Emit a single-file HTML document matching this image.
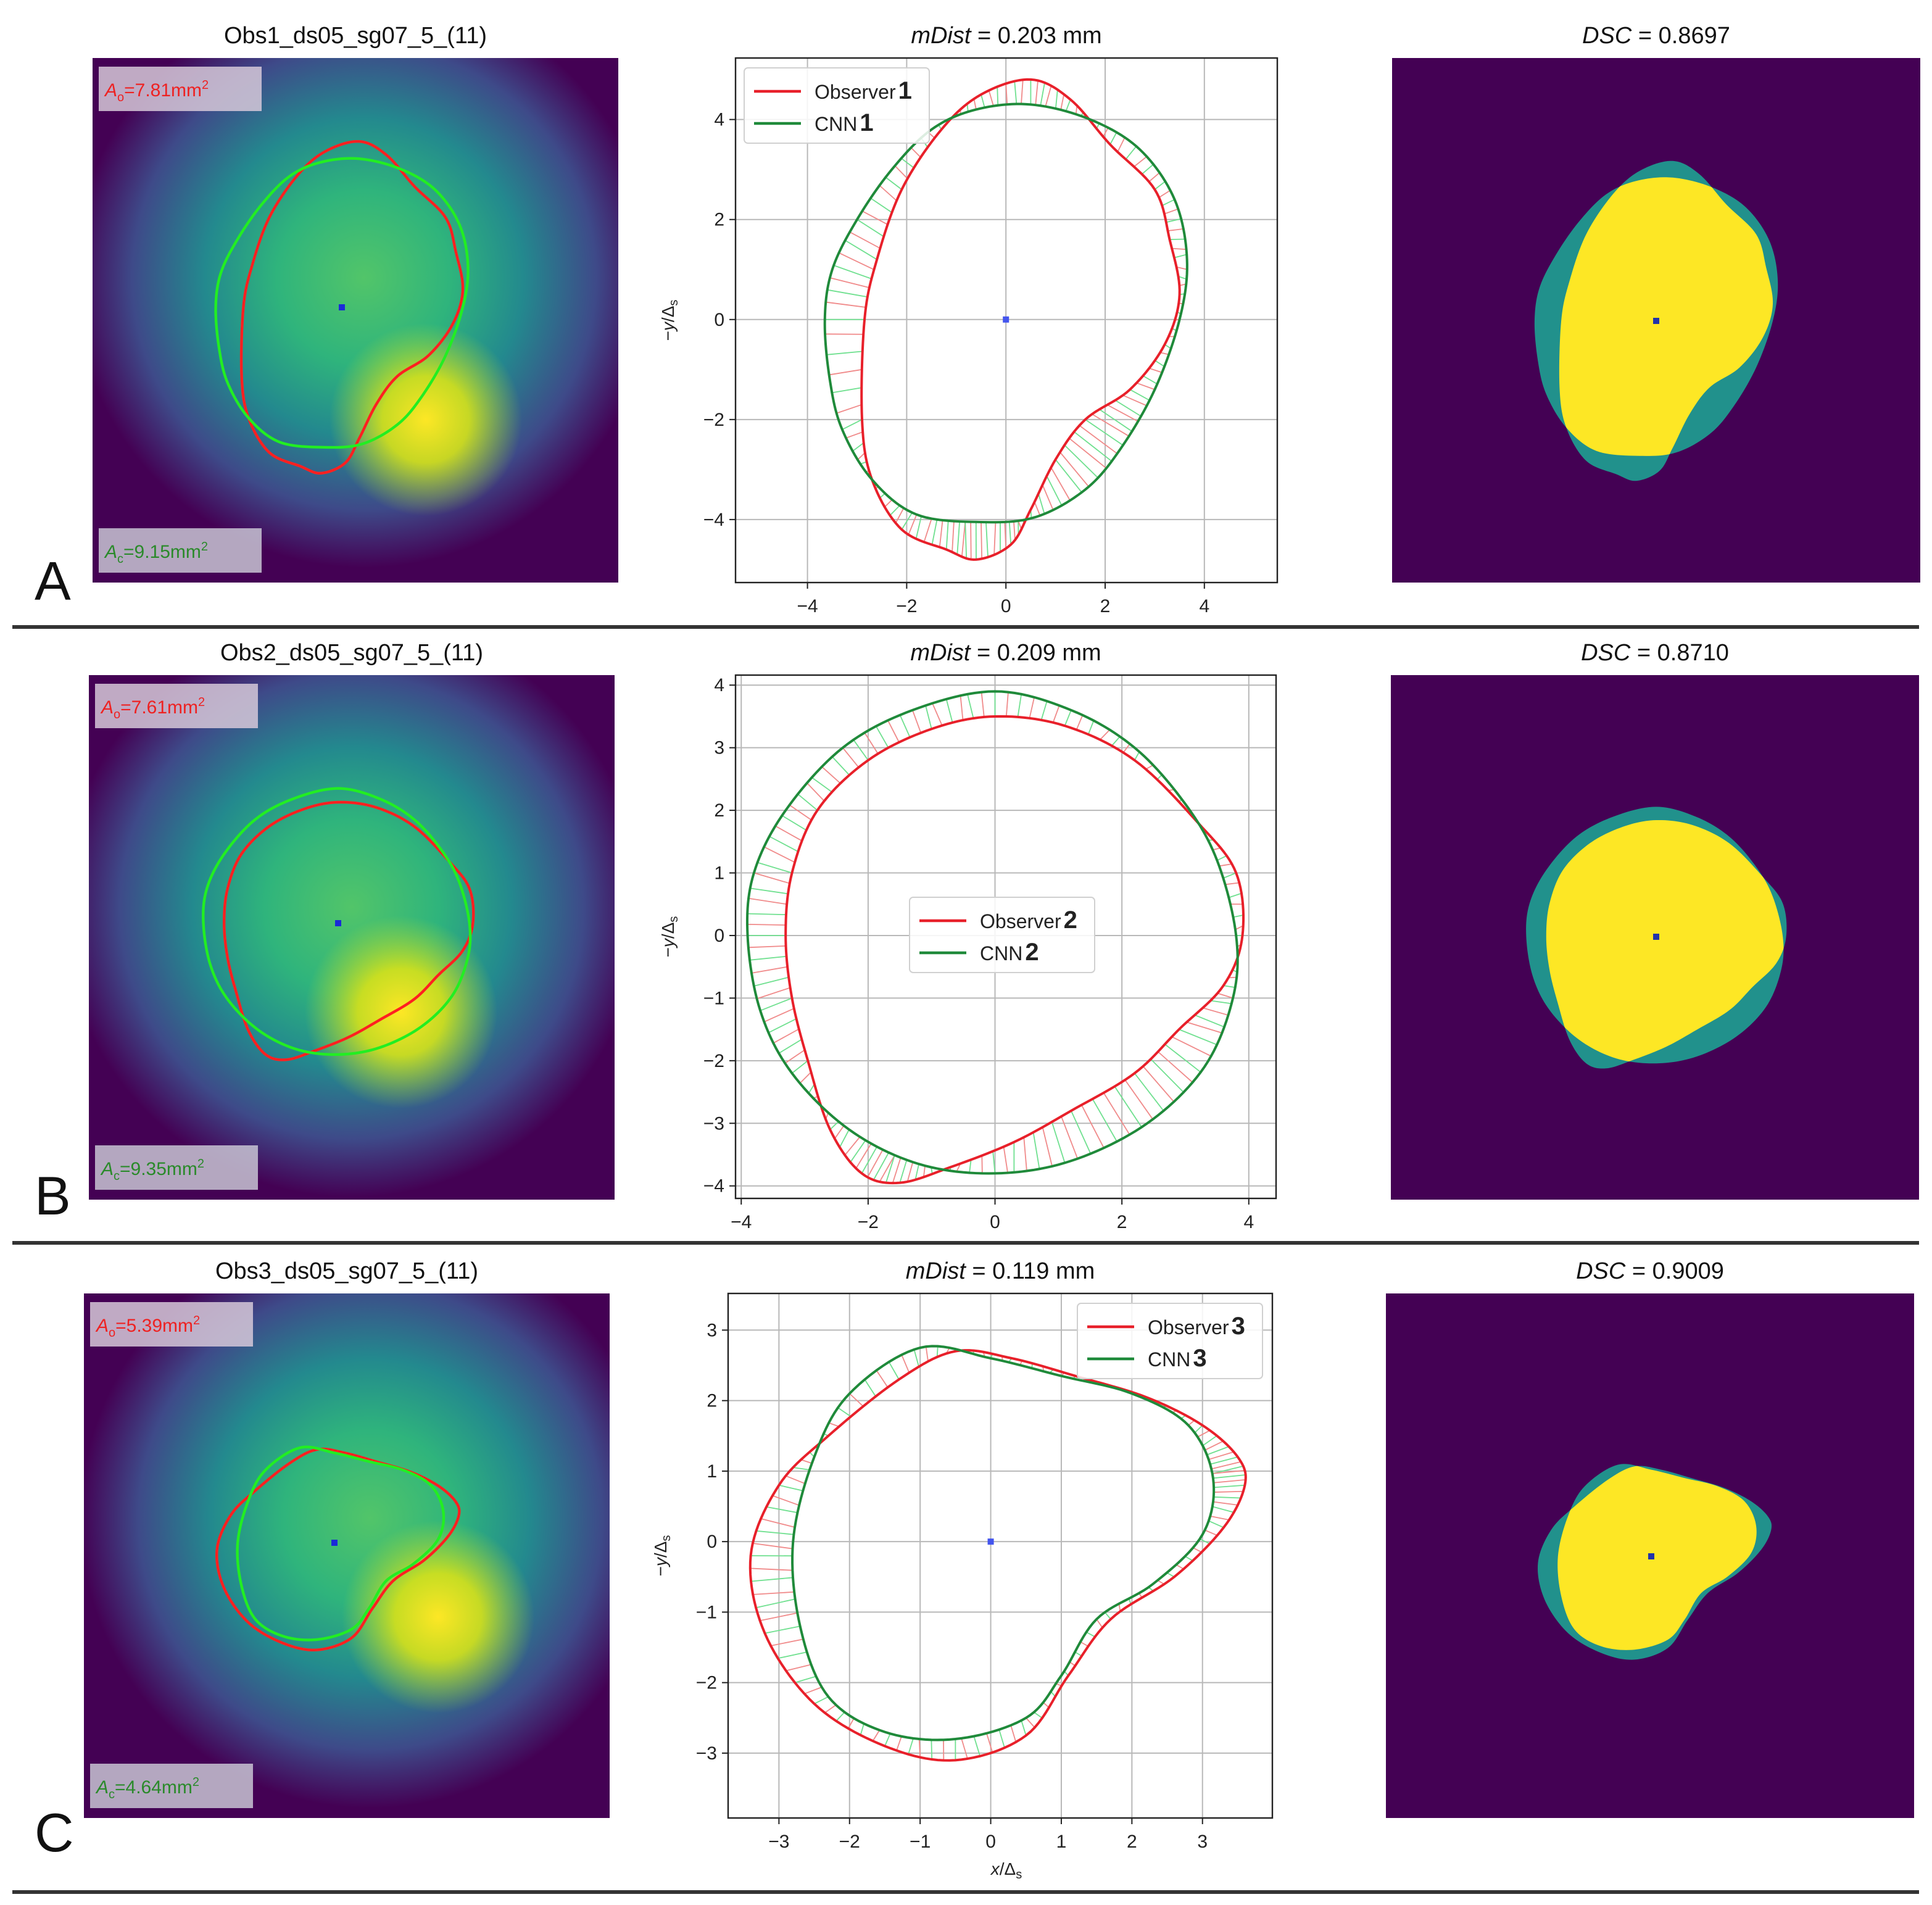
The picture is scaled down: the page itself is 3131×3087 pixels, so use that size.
<!DOCTYPE html>
<html><head><meta charset="utf-8"><style>
html,body{margin:0;padding:0;background:#fff;}
svg{display:block;font-family:"Liberation Sans",sans-serif;}
</style></head>
<body>
<svg id="fig" width="3131" height="3087" viewBox="0 0 1565.5 1543.5" xmlns="http://www.w3.org/2000/svg">
<defs id="defs"></defs>
</svg>
<script>
// ---------- data (contours in data units: [x, -y]) ----------
const obsA = [[0.5,4.8],[-0.5,4.5],[-1.3,3.8],[-2.1,2.6],[-2.6,1.2],[-2.85,0],[-2.9,-2],[-2.7,-3.2],[-2.1,-4.2],[-1.2,-4.6],[-0.6,-4.8],[0.1,-4.5],[0.5,-3.8],[1.0,-2.8],[1.6,-2.0],[2.5,-1.4],[3.2,-0.5],[3.5,0.5],[3.3,1.6],[3.0,2.6],[2.1,3.5],[1.3,4.4]];
const cnnA = [[0.5,4.3],[-0.6,4.2],[-1.5,3.8],[-2.3,3.0],[-3.0,2.0],[-3.5,1.0],[-3.65,0],[-3.55,-1.2],[-3.3,-2.2],[-2.7,-3.2],[-1.8,-3.9],[-0.5,-4.05],[0.6,-3.95],[1.6,-3.4],[2.3,-2.6],[3.0,-1.4],[3.5,0],[3.65,1.2],[3.4,2.4],[2.7,3.4],[1.7,4.0]];
const obsB = [[0,3.5],[-1.0,3.3],[-2.0,2.8],[-2.8,2.0],[-3.2,1.0],[-3.3,0],[-3.2,-1.0],[-2.95,-2.0],[-2.6,-3.1],[-2.1,-3.8],[-1.5,-3.95],[-0.7,-3.7],[0.3,-3.3],[1.2,-2.8],[2.2,-2.2],[2.9,-1.5],[3.6,-0.8],[3.9,0],[3.8,1.0],[3.2,1.8],[2.2,2.8],[1.1,3.35]];
const cnnB = [[0,3.9],[-1.3,3.6],[-2.4,3.0],[-3.3,2.0],[-3.8,1.0],[-3.9,0],[-3.7,-1.2],[-3.2,-2.2],[-2.3,-3.1],[-1.2,-3.65],[0,-3.8],[1.2,-3.6],[2.4,-3.0],[3.3,-2.1],[3.75,-1.0],[3.8,0],[3.5,1.2],[3.0,2.1],[2.2,3.0],[1.2,3.6]];
const obsC = [[-0.5,2.7],[0.3,2.6],[1.2,2.35],[2.2,2.05],[3.0,1.65],[3.5,1.2],[3.6,0.8],[3.3,0.2],[2.6,-0.5],[1.7,-1.1],[1.1,-1.9],[0.5,-2.75],[-0.5,-3.1],[-1.5,-2.9],[-2.5,-2.3],[-3.2,-1.3],[-3.4,-0.2],[-3.0,0.8],[-2.3,1.5],[-1.3,2.3]];
const cnnC = [[-1.0,2.75],[0.0,2.6],[1.0,2.35],[2.0,2.1],[2.8,1.65],[3.15,0.9],[3.0,0.1],[2.3,-0.6],[1.5,-1.1],[1.0,-1.9],[0.5,-2.5],[-0.5,-2.8],[-1.5,-2.7],[-2.3,-2.2],[-2.7,-1.2],[-2.8,0],[-2.5,1.2],[-2.0,2.1]];
const xTicksA = [-4,-2,0,2,4], yTicksA = [-4,-2,0,2,4];
const xTicksB = [-4,-2,0,2,4], yTicksB = [-4,-3,-2,-1,0,1,2,3,4];
const xTicksC = [-3,-2,-1,0,1,2,3], yTicksC = [-3,-2,-1,0,1,2,3];
const titlesLeft = ["Obs1_ds05_sg07_5_(11)","Obs2_ds05_sg07_5_(11)","Obs3_ds05_sg07_5_(11)"];
const mDist = ["0.203","0.209","0.119"];
const dsc = ["0.8697","0.8710","0.9009"];
const areaObs = ["7.81","7.61","5.39"];
const areaCnn = ["9.15","9.35","4.64"];

// ---------- helpers ----------
const NS="http://www.w3.org/2000/svg";
const svg=document.getElementById('fig');
const defs=document.getElementById('defs');
function mk(tag,attrs,parent){const e=document.createElementNS(NS,tag);for(const k in attrs)e.setAttribute(k,attrs[k]);(parent||svg).appendChild(e);return e;}
function sample(pts,n){const out=[];const L=pts.length;for(let i=0;i<L;i++){const p0=pts[(i-1+L)%L],p1=pts[i],p2=pts[(i+1)%L],p3=pts[(i+2)%L];for(let k=0;k<n;k++){const t=k/n,t2=t*t,t3=t2*t;out.push([0.5*(2*p1[0]+(-p0[0]+p2[0])*t+(2*p0[0]-5*p1[0]+4*p2[0]-p3[0])*t2+(-p0[0]+3*p1[0]-3*p2[0]+p3[0])*t3),0.5*(2*p1[1]+(-p0[1]+p2[1])*t+(2*p0[1]-5*p1[1]+4*p2[1]-p3[1])*t2+(-p0[1]+3*p1[1]-3*p2[1]+p3[1])*t3)]);}}return out;}
function pathD(s,fx,fy){return s.map((p,i)=>(i?'L':'M')+fx(p[0]).toFixed(2)+','+fy(p[1]).toFixed(2)).join('')+'Z';}

const rows=[
 {obs:obsA,cnn:cnnA,xt:xTicksA,yt:yTicksA,L:{x:75,y:47},M:{x0:596,x1:1035,y0:47,y1:472,xmin:-5.45,xmax:5.47,ymin:-5.26,ymax:5.23},R:{x:1128,y:47},lc:[277,249],rc:[1342,260],sep:508,letter:'A',ly:486,leg:[603,55],blob:[345,340],glow:[295,225],dot:true,xlab:false},
 {obs:obsB,cnn:cnnB,xt:xTicksB,yt:yTicksB,L:{x:72,y:547},M:{x0:596,x1:1034,y0:547,y1:971,xmin:-4.09,xmax:4.43,ymin:-4.2,ymax:4.16},R:{x:1127,y:547},lc:[274,748],rc:[1342,759],sep:1007,letter:'B',ly:984,leg:[737,727],blob:[325,820],glow:[285,735],dot:false,xlab:false},
 {obs:obsC,cnn:cnnC,xt:xTicksC,yt:yTicksC,L:{x:68,y:1048},M:{x0:590,x1:1031,y0:1048,y1:1473,xmin:-3.72,xmax:3.99,ymin:-3.92,ymax:3.52},R:{x:1123,y:1048},lc:[271,1250],rc:[1338,1261],sep:1533,letter:'C',ly:1500,leg:[873,1056],blob:[355,1310],glow:[300,1230],dot:true,xlab:true}
];

rows.forEach((r,ri)=>{
 const sO=sample(r.obs,12), sC=sample(r.cnn,12);
 // ---- left heatmap ----
 const gid='g'+ri;
 const g1=mk('radialGradient',{id:gid+'a',gradientUnits:'userSpaceOnUse',cx:r.glow[0],cy:r.glow[1],r:235},defs);
 [['0','#52c569'],['0.3','#2fb47c'],['0.55','#23898e'],['0.8','#3e4a89'],['1','#440154']].forEach(s=>mk('stop',{offset:s[0],'stop-color':s[1]},g1));
 const g2=mk('radialGradient',{id:gid+'b',gradientUnits:'userSpaceOnUse',cx:r.blob[0],cy:r.blob[1],r:78},defs);
 [['0','#fde725',1],['0.45','#d8e219',0.9],['1','#b5de2b',0]].forEach(s=>mk('stop',{offset:s[0],'stop-color':s[1],'stop-opacity':s[2]},g2));
 const bg=mk('rect',{x:r.L.x,y:r.L.y,width:426,height:425,fill:'#440154'});
 
 
 const bg2=mk('rect',{x:r.L.x,y:r.L.y,width:426,height:425,fill:'url(#'+gid+'a)'});
 
 
 const bg3=mk('rect',{x:r.L.x,y:r.L.y,width:426,height:425,fill:'url(#'+gid+'b)'});
 
 
 const ls=28, lfx=v=>r.lc[0]+v*ls, lfy=v=>r.lc[1]-v*ls;
 const lo=mk('path',{d:pathD(sO,lfx,lfy),fill:'none',stroke:'#ff2020','stroke-width':2.2});
 
 
 const lcn=mk('path',{d:pathD(sC,lfx,lfy),fill:'none',stroke:'#22ee22','stroke-width':2.2});
 
 
 const ld=mk('rect',{x:r.lc[0]-2.5,y:r.lc[1]-2.5,width:5,height:5,fill:'#1a2ad8'});
 
 
 const b1=mk('rect',{x:r.L.x+5,y:r.L.y+7,width:132,height:36,fill:'#d6c8d8',opacity:0.85});
 
 
 const t1=mk('text',{x:r.L.x+10,y:r.L.y+31,'font-size':15,fill:'#ee2222'});
 
 
 t1.innerHTML='<tspan font-style="italic">A</tspan><tspan font-size="10" dy="4">o</tspan><tspan dy="-4">='+areaObs[ri]+'mm</tspan><tspan font-size="10" dy="-6">2</tspan>';
 const b2=mk('rect',{x:r.L.x+5,y:r.L.y+381,width:132,height:36,fill:'#c8c4d4',opacity:0.85});
 
 
 const t2=mk('text',{x:r.L.x+10,y:r.L.y+405,'font-size':15,fill:'#2a8a2a'});
 
 
 t2.innerHTML='<tspan font-style="italic">A</tspan><tspan font-size="10" dy="4">c</tspan><tspan dy="-4">='+areaCnn[ri]+'mm</tspan><tspan font-size="10" dy="-6">2</tspan>';
 const tl=mk('text',{x:r.L.x+213,y:r.L.y-12,'font-size':19,'text-anchor':'middle',fill:'#111'});
 tl.textContent=titlesLeft[ri];
 
 
 const let_=mk('text',{x:28,y:r.ly,'font-size':44,fill:'#111'});
 let_.textContent=r.letter;
 
 

 // ---- middle plot ----
 const M=r.M;
 const fx=v=>M.x0+(v-M.xmin)/(M.xmax-M.xmin)*(M.x1-M.x0);
 const fy=v=>M.y1-(v-M.ymin)/(M.ymax-M.ymin)*(M.y1-M.y0);
 r.xt.forEach(t=>{
  const gl=mk('line',{x1:fx(t),x2:fx(t),y1:M.y0,y2:M.y1,stroke:'#b8b8b8','stroke-width':1});
  
  
  const tk=mk('line',{x1:fx(t),x2:fx(t),y1:M.y1,y2:M.y1+5,stroke:'#222','stroke-width':1});
  
  
  const tx=mk('text',{x:fx(t),y:M.y1+24,'font-size':15,'text-anchor':'middle',fill:'#222'});
  tx.textContent=(t<0?'\u2212':'')+Math.abs(t);
  
  
 });
 r.yt.forEach(t=>{
  const gl=mk('line',{x1:M.x0,x2:M.x1,y1:fy(t),y2:fy(t),stroke:'#b8b8b8','stroke-width':1});
  
  
  const tk=mk('line',{x1:M.x0-5,x2:M.x0,y1:fy(t),y2:fy(t),stroke:'#222','stroke-width':1});
  
  
  const tx=mk('text',{x:M.x0-9,y:fy(t)+5,'font-size':15,'text-anchor':'end',fill:'#222'});
  tx.textContent=(t<0?'\u2212':'')+Math.abs(t);
  
  
 });
 const hg=mk('g',{});
 
 
 for(let i=0;i<sO.length;i+=2){
  const p=sO[i];let best=null,bd=1e9;
  sC.forEach(q=>{const d=(q[0]-p[0])**2+(q[1]-p[1])**2;if(d<bd){bd=d;best=q;}});
  const hl=mk('line',{x1:fx(p[0]),y1:fy(p[1]),x2:fx(best[0]),y2:fy(best[1]),stroke:(i%4?'#f08a8a':'#6fe08f'),'stroke-width':0.9},hg);
  
  
 }
 const po=mk('path',{d:pathD(sO,fx,fy),fill:'none',stroke:'#e8202a','stroke-width':2});
 
 
 const pc=mk('path',{d:pathD(sC,fx,fy),fill:'none',stroke:'#1f8a3a','stroke-width':2});
 
 
 if(r.dot){const d=mk('rect',{x:fx(0)-2.5,y:fy(0)-2.5,width:5,height:5,fill:'#4455ee'});
  
  }
 const fr=mk('rect',{x:M.x0,y:M.y0,width:M.x1-M.x0,height:M.y1-M.y0,fill:'none',stroke:'#222','stroke-width':1.2});
 
 
 const tm=mk('text',{x:(M.x0+M.x1)/2,y:M.y0-12,'font-size':19,'text-anchor':'middle',fill:'#111'});
 tm.innerHTML='<tspan font-style="italic">mDist</tspan> = '+mDist[ri]+' mm';
 
 
 const yl=mk('text',{x:0,y:0,'font-size':14,'text-anchor':'middle',fill:'#222',transform:'translate('+(M.x0-50)+','+((M.y0+M.y1)/2)+') rotate(-90)'});
 yl.innerHTML='\u2212<tspan font-style="italic">y</tspan>/\u0394<tspan font-size="10" dy="3">s</tspan>';
 
 
 if(r.xlab){const xl=mk('text',{x:(M.x0+M.x1)/2+5,y:M.y1+46,'font-size':14,'text-anchor':'middle',fill:'#222'});
  xl.innerHTML='<tspan font-style="italic">x</tspan>/\u0394<tspan font-size="10" dy="3">s</tspan>';
  
  }
 const lg=mk('g',{});
 
 
 const lb=mk('rect',{x:r.leg[0],y:r.leg[1],width:150,height:61,rx:3,fill:'#fff','fill-opacity':0.85,stroke:'#d0d0d0'},lg);
 
 
 [['#e8202a','Observer',19],['#1f8a3a','CNN',45]].forEach((e,k)=>{
  const ll=mk('line',{x1:r.leg[0]+8,x2:r.leg[0]+46,y1:r.leg[1]+e[2],y2:r.leg[1]+e[2],stroke:e[0],'stroke-width':2.2},lg);
  
  
  const lt=mk('text',{x:r.leg[0]+57,y:r.leg[1]+e[2]+6,'font-size':16,fill:'#222'},lg);
  lt.innerHTML=e[1]+'<tspan font-size="20" font-weight="bold" dx="2">'+(ri+1)+'</tspan>';
  
  
 });

 // ---- right mask ----
 const R=r.R;
 const rb=mk('rect',{x:R.x,y:R.y,width:428,height:425,fill:'#440154'});
 
 
 const rs=27, rfx=v=>r.rc[0]+v*rs, rfy=v=>r.rc[1]-v*rs;
 const cp=mk('clipPath',{id:'clip'+ri},defs);
 mk('path',{d:pathD(sC,rfx,rfy)},cp);
 const t1m=mk('path',{d:pathD(sC,rfx,rfy),fill:'#21918c'});
 
 
 const t2m=mk('path',{d:pathD(sO,rfx,rfy),fill:'#21918c'});
 
 
 const ym=mk('path',{d:pathD(sO,rfx,rfy),fill:'#fde725','clip-path':'url(#clip'+ri+')'});
 
 
 const rd=mk('rect',{x:r.rc[0]-2.5,y:r.rc[1]-2.5,width:5,height:5,fill:'#2233aa'});
 
 
 const td=mk('text',{x:R.x+214,y:R.y-12,'font-size':19,'text-anchor':'middle',fill:'#111'});
 td.innerHTML='<tspan font-style="italic">DSC</tspan> = '+dsc[ri];
 
 
 const sp=mk('line',{x1:10,x2:1555,y1:r.sep,y2:r.sep,stroke:'#333','stroke-width':3});
 
 
});
</script>
</body></html>
